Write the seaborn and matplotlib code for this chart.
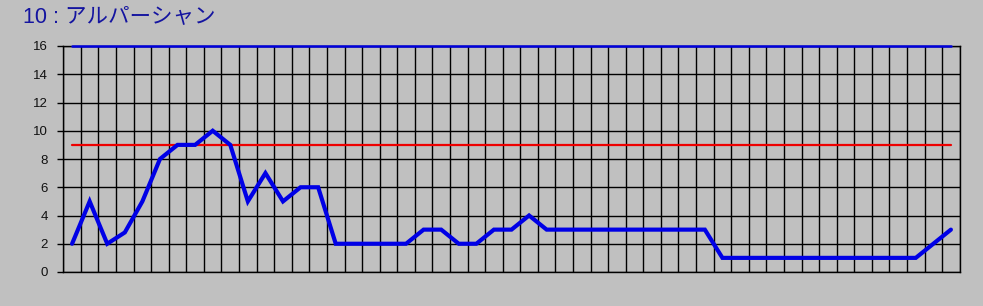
import numpy as np
import pandas as pd
import matplotlib
matplotlib.use("Agg")
import matplotlib.pyplot as plt
import seaborn as sns

title = "10 : アルパーシャン"
values = [2, 5, 2, 2.8, 5, 8, 9, 9, 10, 9, 5, 7, 5, 6, 6,
          2, 2, 2, 2, 2, 3, 3, 2, 2, 3, 3, 4,
          3, 3, 3, 3, 3, 3, 3, 3, 3, 3,
          1, 1, 1, 1, 1, 1, 1, 1, 1, 1, 1, 1,
          2, 3]
upper_level = 16
reference_level = 9
y_ticks = [0, 2, 4, 6, 8, 10, 12, 14, 16]

sns.set_theme(style="white")
plt.rcParams["font.family"] = ["Liberation Sans", "Noto Sans CJK JP", "DejaVu Sans"]

W, H = 983, 306
bg = "#c0c0c0"
fig = plt.figure(figsize=(W / 100, H / 100), dpi=100, facecolor=bg)
ax = fig.add_axes([63.3 / W, 1 - 272 / H, (959.7 - 63.3) / W, (272 - 46) / H])
ax.set_facecolor(bg)

n = len(values)
df = pd.DataFrame({
    "idx": np.arange(n),
    "value": values,
    "upper": [upper_level] * n,
    "ref": [reference_level] * n,
})

# grid
ax.set_xticks(np.arange(-0.5, n, 1.0))
ax.set_yticks(y_ticks)
ax.grid(True, color="black", lw=1.0)
ax.set_axisbelow(True)

sns.lineplot(data=df, x="idx", y="upper", ax=ax, color="#0000dd", lw=1.8, zorder=5,
             clip_on=False)
sns.lineplot(data=df, x="idx", y="ref", ax=ax, color="#ee0000", lw=1.6, zorder=3)
sns.lineplot(data=df, x="idx", y="value", ax=ax, color="#0000e6", lw=3.0, zorder=4,
             solid_joinstyle="miter")

ax.set_xlim(-0.5, n - 0.5)
ax.set_ylim(0, 16)
ax.set_xlabel("")
ax.set_ylabel("")
ax.tick_params(axis="x", length=0, labelbottom=False)
ax.tick_params(axis="y", length=4, width=1, color="black", pad=7,
               labelsize=9.5, labelcolor="#111111", left=True)
for s in ax.spines.values():
    s.set_color("black")
    s.set_linewidth(1.0)

fig.text(23 / W, 1 - 22 / H, title, color="#1414a0", fontsize=15.5,
         ha="left", va="baseline")

fig.savefig("out.png", dpi=100, facecolor=bg)
